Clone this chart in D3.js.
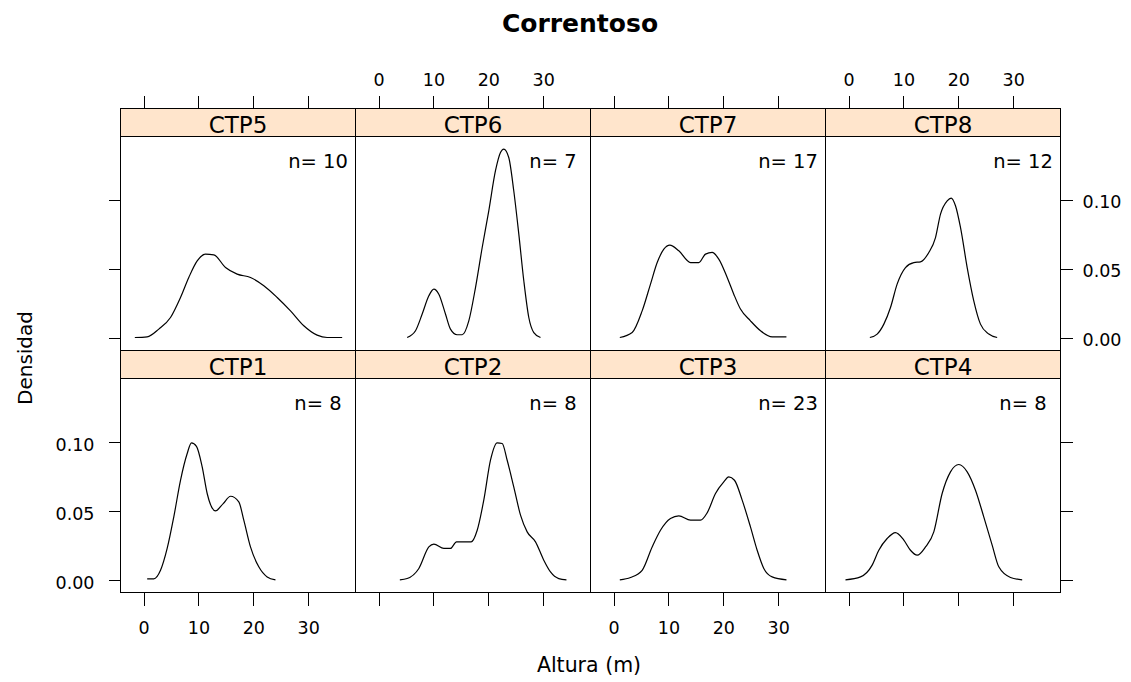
<!DOCTYPE html>
<html>
<head>
<meta charset="utf-8">
<script src="https://cdn.jsdelivr.net/npm/d3@7"></script>
<style>
  body { margin: 0; background: #ffffff; }
  svg { display: block; }
  text { font-family: "DejaVu Sans", sans-serif; fill: #000; }
</style>
</head>
<body>
<svg id="chart" width="1131" height="682"></svg>
<script>
// Panel names, sample sizes and axis ticks
const panelNames = ["CTP1", "CTP2", "CTP3", "CTP4", "CTP5", "CTP6", "CTP7", "CTP8"];
const sampleSizes = [8, 8, 23, 8, 10, 7, 17, 12];
const xTicks = [0, 10, 20, 30];
const yTicks = [0, 0.05, 0.10];

// Kernel density estimates of tree height (m) per plot
const alturaCTP1 = [0.67, 1.88, 3.1, 4.31, 5.52, 6.74, 7.96, 8.74, 9.65, 10.69, 11.6, 13.11, 14.52, 15.85, 17.36, 18.27, 19.49, 21.0, 22.53, 24.04];
const densCTP1   = [0.001, 0.001, 0.0072, 0.023, 0.0459, 0.0724, 0.0918, 0.0995, 0.097, 0.0821, 0.0628, 0.0502, 0.0555, 0.0608, 0.0567, 0.0435, 0.0241, 0.0097, 0.0024, 0.0003];

const alturaCTP2 = [3.89, 5.22, 7.35, 9.17, 10.08, 11.9, 13.11, 14.21, 16.88, 17.98, 19.18, 20.4, 21.62, 22.53, 23.44, 24.64, 25.87, 27.08, 28.6, 30.11, 31.33, 32.84, 34.24];
const densCTP2   = [0.0003, 0.0012, 0.0085, 0.0241, 0.0261, 0.023, 0.023, 0.0278, 0.0278, 0.0362, 0.058, 0.0869, 0.0995, 0.099, 0.0869, 0.0676, 0.0471, 0.035, 0.0278, 0.0145, 0.006, 0.0012, 0.0003];

const alturaCTP3 = [1.15, 3.1, 5.22, 7.04, 8.56, 10.38, 11.9, 14.03, 15.85, 17.06, 18.58, 20.09, 21.0, 22.04, 23.44, 24.95, 26.17, 27.38, 28.9, 31.51];
const densCTP3   = [0.0003, 0.002, 0.0072, 0.0241, 0.0362, 0.0447, 0.0466, 0.0435, 0.0435, 0.0488, 0.0628, 0.0712, 0.0748, 0.0724, 0.058, 0.0386, 0.0217, 0.0085, 0.0024, 0.0003];

const alturaCTP4 = [-0.55, 2.19, 4.31, 5.52, 7.04, 8.56, 10.08, 11.29, 12.51, 14.03, 15.54, 17.06, 18.58, 20.09, 21.62, 23.13, 24.64, 26.17, 27.38, 29.51, 31.64];
const densCTP4   = [0.0003, 0.0024, 0.0109, 0.0217, 0.0302, 0.0345, 0.029, 0.0217, 0.0181, 0.0241, 0.035, 0.0628, 0.0785, 0.0838, 0.0785, 0.0652, 0.0459, 0.0254, 0.0097, 0.002, 0.0003];

const alturaCTP5 = [-1.58, 0.67, 2.79, 4.92, 6.74, 8.25, 9.78, 11.29, 12.81, 14.94, 17.06, 19.49, 21.92, 24.35, 26.78, 29.2, 31.63, 33.45, 36.19];
const densCTP5   = [0.0005, 0.001, 0.0066, 0.015, 0.0295, 0.044, 0.056, 0.0609, 0.0604, 0.0512, 0.0464, 0.044, 0.038, 0.0295, 0.0198, 0.009, 0.0022, 0.0005, 0.0005];

const alturaCTP6 = [5.22, 6.74, 7.96, 9.17, 10.08, 10.99, 12.2, 13.11, 14.33, 15.24, 16.45, 17.67, 18.89, 20.09, 21.31, 22.22, 22.82, 23.73, 24.64, 25.56, 26.47, 27.38, 28.29, 29.51];
const densCTP6   = [0.0005, 0.0054, 0.0175, 0.0307, 0.0356, 0.0319, 0.0175, 0.0066, 0.0025, 0.0025, 0.0126, 0.0367, 0.0657, 0.0923, 0.1213, 0.1345, 0.137, 0.1309, 0.1068, 0.0754, 0.0416, 0.015, 0.0041, 0.0005];

const alturaCTP7 = [1.15, 3.4, 5.22, 6.74, 7.96, 9.17, 10.26, 11.9, 14.03, 15.54, 16.76, 17.98, 19.18, 20.71, 21.91, 23.13, 24.95, 26.78, 28.9, 31.5];
const densCTP7   = [0.0005, 0.0041, 0.0198, 0.0392, 0.0548, 0.0645, 0.0674, 0.0633, 0.0548, 0.0548, 0.0609, 0.0621, 0.0573, 0.044, 0.0319, 0.0211, 0.0126, 0.0054, 0.001, 0.001];

const alturaCTP8 = [3.89, 5.22, 6.44, 7.65, 8.86, 10.38, 11.9, 13.11, 14.63, 15.85, 16.76, 17.98, 18.7, 19.49, 20.4, 21.62, 22.82, 24.04, 25.56, 27.08];
const densCTP8   = [0.0005, 0.003, 0.0102, 0.0222, 0.0392, 0.0512, 0.0548, 0.0553, 0.0621, 0.0729, 0.0899, 0.0995, 0.1015, 0.0959, 0.0802, 0.0512, 0.0271, 0.0102, 0.003, 0.0005];

const alturas = [alturaCTP1, alturaCTP2, alturaCTP3, alturaCTP4, alturaCTP5, alturaCTP6, alturaCTP7, alturaCTP8];
const densidades = [densCTP1, densCTP2, densCTP3, densCTP4, densCTP5, densCTP6, densCTP7, densCTP8];

// Layout
const gridLeft = 120, colW = 235, gridTop = 108, stripH = 28, panelH = 214;
const rowH = stripH + panelH;
const tickLen = 13;

const x = d3.scaleLinear().domain([-4.19, 38.62]).range([0, colW]);
const y = d3.scaleLinear().domain([-0.0089, 0.1461]).range([panelH, 0]);

const svg = d3.select("#chart");
const root = svg.append("g").attr("transform", "translate(0.5,0.5)");

const line = d3.line()
  .x(d => x(d[0]))
  .y(d => y(d[1]))
  .curve(d3.curveMonotoneX);

panelNames.forEach((name, i) => {
  const row = i < 4 ? 1 : 0;      // CTP1-4 on the bottom row
  const col = i % 4;
  const gx = gridLeft + col * colW;
  const stripTop = gridTop + row * rowH;
  const panelTop = stripTop + stripH;

  // strip
  root.append("rect")
    .attr("x", gx).attr("y", stripTop)
    .attr("width", colW).attr("height", stripH)
    .attr("fill", "#ffe5cc").attr("stroke", "#000").attr("stroke-width", 1)
    .attr("shape-rendering", "crispEdges");
  root.append("text")
    .attr("x", gx + colW / 2).attr("y", stripTop + stripH - 3.5)
    .attr("text-anchor", "middle")
    .style("font-size", "23px")
    .text(name);

  const g = root.append("g").attr("transform", `translate(${gx},${panelTop})`);

  // density curve
  const pts = alturas[i].map((v, k) => [v, densidades[i][k]]);
  g.append("path")
    .attr("d", line(pts))
    .attr("fill", "none")
    .attr("stroke", "#000")
    .attr("stroke-width", 1.2);

  // sample size
  g.append("text")
    .attr("x", colW - 37.5).attr("y", 31.5)
    .attr("text-anchor", "middle")
    .style("font-size", "19.5px")
    .text("n= " + sampleSizes[i]);

  // panel border
  g.append("rect")
    .attr("width", colW).attr("height", panelH)
    .attr("fill", "none").attr("stroke", "#000").attr("stroke-width", 1)
    .attr("shape-rendering", "crispEdges");

  // x axis: bottom row below the panels, top row above the strips; labels alternate
  if (row === 1) {
    const showLab = col % 2 === 0;
    const ax = g.append("g").attr("transform", `translate(0,${panelH})`)
      .call(d3.axisBottom(x).tickValues(xTicks).tickSize(tickLen).tickPadding(16.5)
        .tickFormat(showLab ? d3.format("d") : () => ""));
    ax.select(".domain").remove();
    ax.attr("font-family", null).attr("font-size", null);
    ax.selectAll("text").style("font-size", "17.5px");
  } else {
    const showLab = col % 2 === 1;
    const ax = g.append("g").attr("transform", `translate(0,${-stripH})`)
      .call(d3.axisTop(x).tickValues(xTicks).tickSize(tickLen).tickPadding(10)
        .tickFormat(showLab ? d3.format("d") : () => ""));
    ax.select(".domain").remove();
    ax.attr("font-family", null).attr("font-size", null);
    ax.selectAll("text").style("font-size", "17.5px");
  }

  // y axis: left on first column, right on last column; labels alternate by row
  if (col === 0) {
    const ay = g.append("g")
      .call(d3.axisLeft(y).tickValues(yTicks).tickSize(12).tickPadding(14)
        .tickFormat(row === 1 ? d3.format(".2f") : () => ""));
    ay.select(".domain").remove();
    ay.attr("font-family", null).attr("font-size", null);
    ay.selectAll("text").style("font-size", "17.5px").attr("dy", "0.45em");
  }
  if (col === 3) {
    const ay = g.append("g").attr("transform", `translate(${colW},0)`)
      .call(d3.axisRight(y).tickValues(yTicks).tickSize(12).tickPadding(10)
        .tickFormat(row === 0 ? d3.format(".2f") : () => ""));
    ay.select(".domain").remove();
    ay.attr("font-family", null).attr("font-size", null);
    ay.selectAll("text").style("font-size", "17.5px").attr("dy", "0.4em");
  }
});

root.selectAll(".tick line").attr("stroke", "#000").attr("shape-rendering", "crispEdges");

// Titles
svg.append("text")
  .attr("x", 580).attr("y", 31.5)
  .attr("text-anchor", "middle")
  .style("font-size", "25px").style("font-weight", "bold")
  .text("Correntoso");

svg.append("text")
  .attr("x", 589).attr("y", 672)
  .attr("text-anchor", "middle")
  .style("font-size", "20.5px")
  .text("Altura (m)");

svg.append("text")
  .attr("transform", "translate(32,358) rotate(-90)")
  .attr("text-anchor", "middle")
  .style("font-size", "20px")
  .text("Densidad");
</script>
</body>
</html>
